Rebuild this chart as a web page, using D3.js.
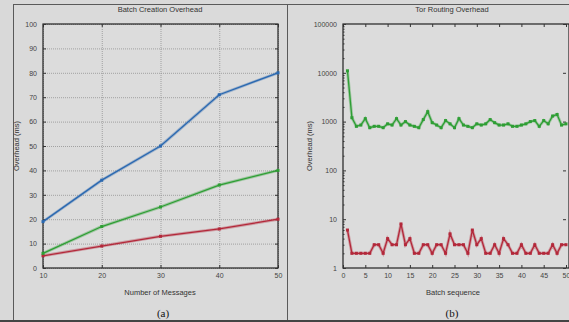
<!DOCTYPE html>
<html>
<head>
<meta charset="utf-8">
<script src="https://cdn.jsdelivr.net/npm/d3@7"></script>
<style>
  body { margin: 0; background: #d9d9d9; }
  svg { display: block; font-family: "Liberation Sans", Arial, sans-serif; }
</style>
</head>
<body>
<svg id="chart" width="569" height="322"></svg>
<script>
// panel (a) data
const messages = [10, 20, 30, 40, 50];
const blueSeries = [19, 36, 50, 71, 80];
const greenSeries = [6, 17, 25, 34, 40];
const redSeries = [5, 9, 13, 16, 20];
const yTicksA = [0, 10, 20, 30, 40, 50, 60, 70, 80, 90, 100];

// panel (b) data
const batchSeq = d3.range(1, 51);
const torGreen = [11000, 1200, 800, 850, 1150, 750, 800, 800, 750, 900,
  850, 1150, 850, 1000, 850, 800, 750, 1100, 1600, 950,
  850, 750, 1050, 900, 750, 1150, 850, 800, 750, 900,
  850, 900, 1100, 950, 850, 850, 900, 800, 800, 850,
  900, 1000, 1050, 800, 1050, 900, 1300, 1400, 850, 900];
const torRed = [6, 2, 2, 2, 2, 2, 3, 3, 2, 4,
  3, 3, 8, 3, 4, 2, 2, 3, 3, 2,
  3, 3, 2, 5, 3, 3, 3, 2, 6, 3,
  4, 2, 2, 3, 2, 4, 3, 2, 2, 3,
  2, 2, 3, 2, 2, 2, 3, 2, 3, 3];
const xTicksB = [0, 5, 10, 15, 20, 25, 30, 35, 40, 45, 50];
const yTicksB = [1, 10, 100, 1000, 10000, 100000];

const svg = d3.select('#chart');

// panel frames
svg.append('rect').attr('x', 13.5).attr('y', 4.5).attr('width', 274).attr('height', 316)
  .attr('fill', '#dadada').attr('stroke', '#5a5a5a').attr('stroke-width', 1);
svg.append('rect').attr('x', 287.5).attr('y', 4.5).attr('width', 290).attr('height', 316)
  .attr('fill', '#dadada').attr('stroke', '#5a5a5a').attr('stroke-width', 1);
svg.append('line').attr('x1', 0).attr('x2', 569).attr('y1', 321).attr('y2', 321)
  .attr('stroke', '#444').attr('stroke-width', 2);

function drawSeries(g, xs, ys, x, y, color) {
  const line = d3.line().x((d, i) => x(xs[i])).y(d => y(d));
  g.append('path').datum(ys)
    .attr('fill', 'none').attr('stroke', color).attr('stroke-opacity', 0.35)
    .attr('stroke-width', 3).attr('d', line);
  g.append('path').datum(ys)
    .attr('fill', 'none').attr('stroke', color).attr('stroke-width', 1.3).attr('d', line);
  g.selectAll(null).data(ys).enter().append('rect')
    .attr('x', (d, i) => x(xs[i]) - 1.5).attr('y', d => y(d) - 1.5)
    .attr('width', 3).attr('height', 3).attr('fill', color);
}

function styleAxis(sel) {
  sel.select('.domain').remove();
  sel.selectAll('text').attr('fill', '#444').style('font-size', '7px');
  sel.selectAll('line').attr('stroke', '#333');
}

// ---------- panel (a) ----------
const xA = d3.scaleLinear().domain([10, 50]).range([43, 278]);
const yA = d3.scaleLinear().domain([0, 100]).range([268, 24]);
const gA = svg.append('g');

gA.append('rect').attr('x', 43).attr('y', 24).attr('width', 235).attr('height', 244)
  .attr('fill', '#dcdcdc');

gA.append('g').attr('transform', 'translate(0,268)')
  .call(d3.axisBottom(xA).tickValues(messages).tickSize(-244).tickFormat(''))
  .call(s => { s.select('.domain').remove(); s.selectAll('line').attr('stroke', '#888').attr('stroke-dasharray', '1,1').attr('stroke-width', 0.7); });
gA.append('g').attr('transform', 'translate(43,0)')
  .call(d3.axisLeft(yA).tickValues(yTicksA).tickSize(-235).tickFormat(''))
  .call(s => { s.select('.domain').remove(); s.selectAll('line').attr('stroke', '#888').attr('stroke-dasharray', '1,1').attr('stroke-width', 0.7); });

gA.append('rect').attr('x', 43).attr('y', 24).attr('width', 235).attr('height', 244)
  .attr('fill', 'none').attr('stroke', '#222').attr('stroke-width', 1.2);

gA.append('g').attr('transform', 'translate(0,268)')
  .call(d3.axisBottom(xA).tickValues(messages).tickSize(-3).tickPadding(5))
  .call(styleAxis);
gA.append('g').attr('transform', 'translate(43,0)')
  .call(d3.axisLeft(yA).tickValues(yTicksA).tickSize(-3).tickPadding(6))
  .call(styleAxis);
gA.append('g').attr('transform', 'translate(0,24)')
  .call(d3.axisTop(xA).tickValues(messages).tickSize(-3).tickFormat(''))
  .call(styleAxis);
gA.append('g').attr('transform', 'translate(278,0)')
  .call(d3.axisRight(yA).tickValues(yTicksA).tickSize(-3).tickFormat(''))
  .call(styleAxis);

drawSeries(gA, messages, redSeries, xA, yA, '#b3283a');
drawSeries(gA, messages, greenSeries, xA, yA, '#2e9e34');
drawSeries(gA, messages, blueSeries, xA, yA, '#2a68b0');

gA.append('text').attr('x', 160).attr('y', 12).attr('text-anchor', 'middle')
  .style('font-size', '7.5px').attr('fill', '#333').text('Batch Creation Overhead');
gA.append('text').attr('x', 160).attr('y', 295).attr('text-anchor', 'middle')
  .style('font-size', '7.5px').attr('fill', '#333').text('Number of Messages');
gA.append('text').attr('transform', 'translate(19,146) rotate(-90)').attr('text-anchor', 'middle')
  .style('font-size', '7.5px').attr('fill', '#333').text('Overhead (ms)');
gA.append('text').attr('x', 163).attr('y', 317).attr('text-anchor', 'middle')
  .style('font-family', '"Liberation Serif", serif').style('font-size', '11px').attr('fill', '#111').text('(a)');

// ---------- panel (b) ----------
const xB = d3.scaleLinear().domain([0, 50]).range([343, 566]);
const yB = d3.scaleLog().domain([1, 100000]).range([268, 24]);
const gB = svg.append('g');

gB.append('rect').attr('x', 343).attr('y', 24).attr('width', 226).attr('height', 244)
  .attr('fill', '#dcdcdc').attr('stroke', '#222').attr('stroke-width', 1.2);

const minorB = [];
yTicksB.slice(0, -1).forEach(p => { for (let k = 2; k < 10; k++) minorB.push(p * k); });

gB.append('g').attr('transform', 'translate(0,268)')
  .call(d3.axisBottom(xB).tickValues(xTicksB).tickSize(-3).tickPadding(5))
  .call(styleAxis);
gB.append('g').attr('transform', 'translate(0,24)')
  .call(d3.axisTop(xB).tickValues(xTicksB).tickSize(-3).tickFormat(''))
  .call(styleAxis);
gB.append('g').attr('transform', 'translate(343,0)')
  .call(d3.axisLeft(yB).tickValues(yTicksB).tickSize(-3).tickPadding(6).tickFormat(d3.format('d')))
  .call(styleAxis);
gB.append('g').attr('transform', 'translate(343,0)')
  .call(d3.axisLeft(yB).tickValues(minorB).tickSize(-1.5).tickFormat(''))
  .call(styleAxis);
gB.append('g').attr('transform', 'translate(566,0)')
  .call(d3.axisRight(yB).tickValues(yTicksB).tickSize(-3).tickFormat(''))
  .call(styleAxis);

drawSeries(gB, batchSeq, torGreen, xB, yB, '#2e9e34');
drawSeries(gB, batchSeq, torRed, xB, yB, '#b3283a');

gB.append('text').attr('x', 452).attr('y', 12).attr('text-anchor', 'middle')
  .style('font-size', '7.5px').attr('fill', '#333').text('Tor Routing Overhead');
gB.append('text').attr('x', 453).attr('y', 295).attr('text-anchor', 'middle')
  .style('font-size', '7.5px').attr('fill', '#333').text('Batch sequence');
gB.append('text').attr('transform', 'translate(312,146) rotate(-90)').attr('text-anchor', 'middle')
  .style('font-size', '7.5px').attr('fill', '#333').text('Overhead (ms)');
gB.append('text').attr('x', 452).attr('y', 317).attr('text-anchor', 'middle')
  .style('font-family', '"Liberation Serif", serif').style('font-size', '11px').attr('fill', '#111').text('(b)');
</script>
</body>
</html>
